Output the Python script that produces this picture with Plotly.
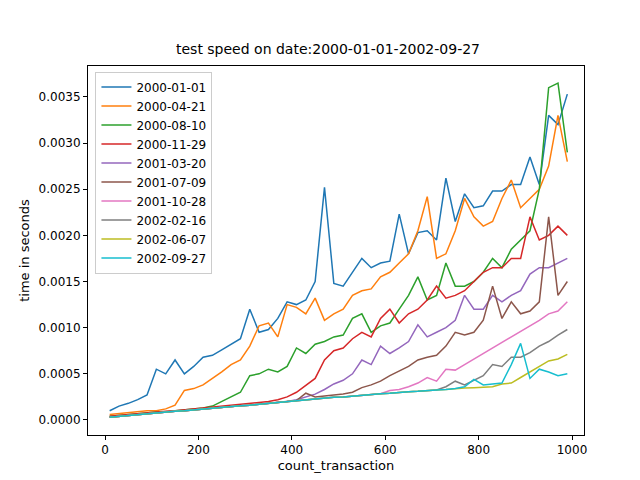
import plotly.graph_objects as go

x = list(range(10, 1000, 20))
names = ["2000-01-01","2000-04-21","2000-08-10","2000-11-29","2001-03-20",
         "2001-07-09","2001-10-28","2002-02-16","2002-06-07","2002-09-27"]
colors = ["#1f77b4","#ff7f0e","#2ca02c","#d62728","#9467bd",
          "#8c564b","#e377c2","#7f7f7f","#bcbd22","#17becf"]

# values in units of 1e-4 seconds
base = [0.3,0.4,0.5,0.6,0.7,0.75,0.85,0.95,1.0,1.1,1.2,1.3,1.4,1.45,1.55,1.6,1.7,1.8,1.9,2.0,
        2.1,2.2,2.3,2.35,2.45,2.5,2.6,2.7,2.75,2.85,2.9,3.0,3.05,3.1,3.2,3.25,3.3,3.4,3.45,3.5,
        3.55,3.6,3.7,3.75,3.8,3.85,3.9,3.95,4.0,4.1]
s_2000_01_01 = [1.0,1.5,1.8,2.2,2.7,5.5,5.0,6.5,5.0,5.8,6.8,7.0,7.6,8.2,8.8,12.0,9.5,9.8,11.0,12.8,
                12.5,13.0,15.0,25.2,14.8,14.5,16.0,17.5,16.5,17.0,17.2,22.3,18.0,20.3,20.5,19.5,26.2,21.5,24.5,23.0,
                23.2,24.8,24.8,25.5,25.5,28.5,25.5,33.0,32.0,35.3]
s_2000_04_21 = [0.6,0.7,0.8,0.9,1.0,1.0,1.2,1.6,3.2,3.4,3.8,4.5,5.2,6.0,6.5,8.0,10.2,10.5,9.0,12.5,
                12.2,11.5,13.2,10.8,11.5,12.0,13.5,14.0,14.2,15.5,16.0,17.0,18.0,20.5,24.2,17.5,18.0,20.5,24.0,22.0,
                21.0,21.5,24.0,26.0,23.0,24.0,25.0,27.5,33.0,28.0]
s_2000_08_10 = [0.4,0.5,0.6,0.7,0.8,0.85,0.9,1.0,1.1,1.2,1.3,1.5,2.0,2.5,3.0,4.8,5.0,5.5,5.2,5.8,
                7.8,7.2,8.2,8.5,9.0,9.2,11.0,11.5,9.5,10.2,10.5,12.0,13.5,15.5,13.0,13.5,17.0,14.5,14.5,15.0,
                16.0,17.5,16.5,18.5,19.5,20.5,25.0,36.0,36.5,29.0]
s_2000_11_29 = [0.4,0.5,0.6,0.7,0.8,0.9,0.95,1.0,1.1,1.2,1.3,1.4,1.45,1.55,1.65,1.75,1.85,2.0,2.2,2.5,
                3.0,3.8,4.5,6.5,7.5,7.8,8.8,9.5,9.0,11.0,12.0,10.5,11.5,12.0,13.0,14.5,13.2,13.5,14.0,15.0,
                16.0,16.5,16.5,17.5,17.5,22.0,19.5,20.0,21.0,20.0]
s_2001_03_20 = base[:20] + [2.2,2.5,2.8,3.3,3.9,4.3,5.0,6.5,6.0,8.0,7.2,7.8,8.5,10.3,9.0,9.5,10.0,10.8,13.5,12.0,
                            12.0,13.5,12.8,13.5,14.0,15.8,16.5,16.5,17.0,17.5]
s_2001_07_09 = base[:21] + [2.9,2.5,2.6,2.7,2.8,3.0,3.5,3.8,4.2,4.8,5.3,5.8,6.5,6.8,7.0,8.0,9.5,9.2,9.5,
                            10.8,14.5,11.0,12.8,11.5,11.8,12.8,22.0,13.5,15.0]
s_2001_10_28 = base[:30] + [3.2,3.3,3.6,4.0,4.6,4.2,5.5,5.4,6.0,6.6,7.2,7.8,8.4,9.0,9.6,10.2,10.8,11.5,11.8,12.8]
s_2002_02_16 = base[:36] + [3.6,4.2,3.8,4.3,4.8,6.0,5.8,6.8,6.8,7.3,8.0,8.5,9.2,9.8]
s_2002_06_07 = base[:42] + [3.9,4.0,4.6,5.2,5.8,6.4,6.6,7.1]
s_2002_09_27 = base[:38] + [3.6,4.4,3.8,3.9,4.0,6.0,8.3,4.5,5.5,5.2,4.8,5.0]

series = [s_2000_01_01, s_2000_04_21, s_2000_08_10, s_2000_11_29, s_2001_03_20,
          s_2001_07_09, s_2001_10_28, s_2002_02_16, s_2002_06_07, s_2002_09_27]

fig = go.Figure()
for n, c, s in zip(names, colors, series):
    fig.add_trace(go.Scatter(x=x, y=[v * 1e-4 for v in s], mode="lines", name=n,
                             line=dict(color=c, width=1.5)))

axis_common = dict(showgrid=False, zeroline=False, showline=True, mirror=True,
                   linecolor="black", linewidth=1, ticks="outside", ticklen=4,
                   tickcolor="black", tickfont=dict(size=12, color="black"), automargin=False)
fig.update_layout(
    width=640, height=480,
    font=dict(family="DejaVu Sans", color="black"),
    paper_bgcolor="white", plot_bgcolor="white",
    margin=dict(l=80, r=64, t=58, b=53),
    title=dict(text="test speed on date:2000-01-01-2002-09-27", x=0.5, xanchor="center",
               y=0.915, yanchor="middle", font=dict(size=14)),
    xaxis=dict(range=[-36.4, 1025.7], tickvals=[0,200,400,600,800,1000],
               title=dict(text="count_transaction", font=dict(size=13), standoff=4), **axis_common),
    yaxis=dict(range=[-0.000163, 0.003835], tickvals=[0,0.0005,0.001,0.0015,0.002,0.0025,0.003,0.0035],
               tickformat=".4f",
               title=dict(text="time in seconds", font=dict(size=13), standoff=6), **axis_common),
    legend=dict(x=0.015, y=0.985, xanchor="left", yanchor="top", bgcolor="rgba(255,255,255,0.8)",
                bordercolor="#cccccc", borderwidth=1, font=dict(size=12), tracegroupgap=0),
    showlegend=True,
)
fig.write_html("out.html")
